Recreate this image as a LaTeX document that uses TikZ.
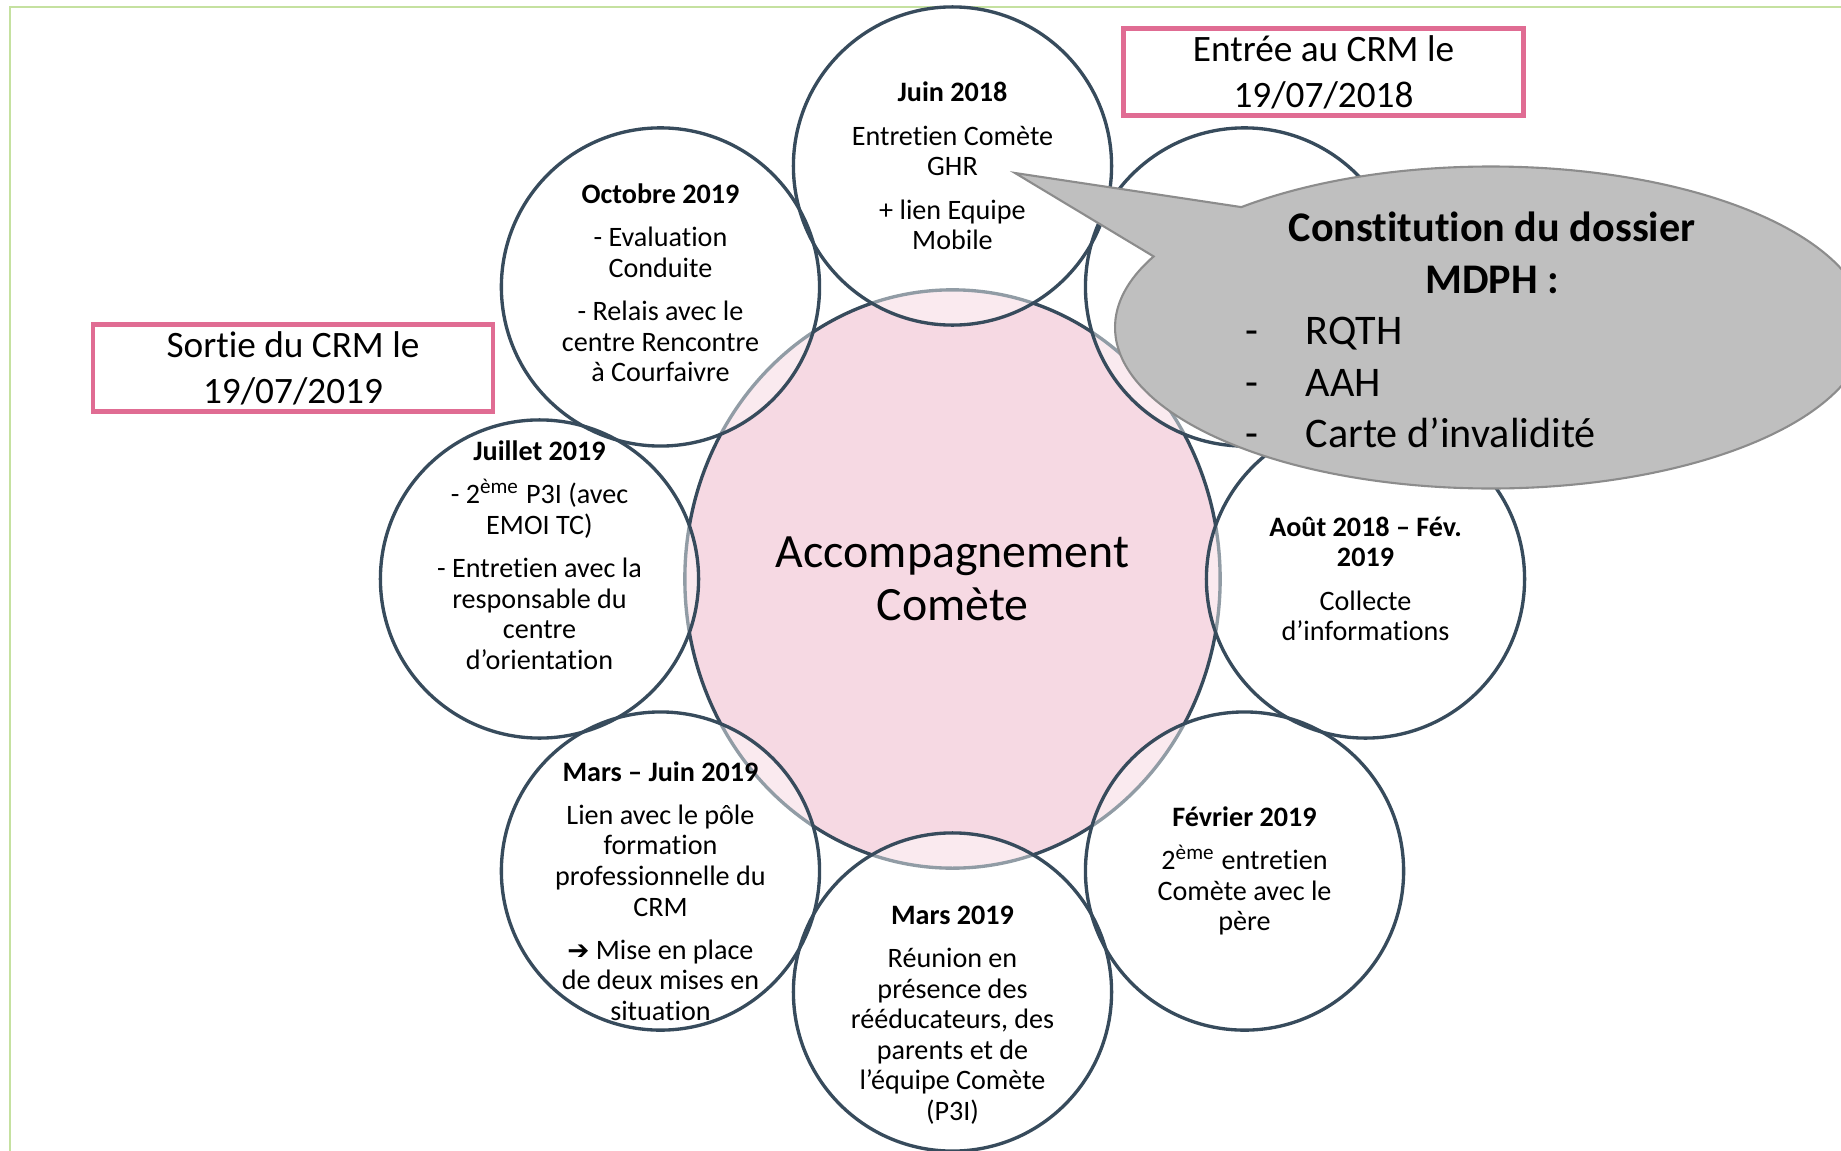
\documentclass[tikz,border=0pt]{standalone}
\usepackage{fontspec}
\setmainfont{Carlito}[RawFeature={-liga;-clig;-calt}]
\newfontfamily\dejavu{DejaVu Sans}
\usetikzlibrary{calc,shapes.geometric}
\definecolor{ink}{HTML}{374B5C}
\definecolor{rose}{HTML}{F6D9E3}
\definecolor{cadre}{HTML}{E06C93}
\definecolor{vert}{HTML}{C5E1A0}
\definecolor{bullefill}{HTML}{BFBFBF}
\definecolor{bulleline}{HTML}{8C8C8C}
\tikzset{
  centre/.style={ellipse, draw=ink, line width=0.95pt, fill=rose, minimum width=5.35cm, minimum height=5.78cm, inner sep=0pt, align=center, font=\fontsize{13.6}{15}\selectfont},
  disque/.style={circle, fill=white, fill opacity=0.45, minimum size=3.18cm, inner sep=0pt},
  anneau/.style={draw=ink, line width=0.95pt},
  txt/.style={align=center, inner sep=0pt, font=\fontsize{8}{8.7}\selectfont},
  datebox/.style={draw=cadre, line width=1.3pt, fill=white, minimum width=4cm, minimum height=0.87cm, inner sep=0pt, align=center, font=\fontsize{10.6}{13}\selectfont},
  bulleform/.style={fill=bullefill, draw=bulleline, line width=0.6pt},
  bulletxt/.style={inner sep=0pt, font=\fontsize{12}{14.6}\selectfont}
}

\begin{document}
\begin{tikzpicture}[x=0.01cm, y=-0.01cm]
\useasboundingbox (0,0) rectangle (1841,1151);
\clip (0,0) rectangle (1841,1151);
\draw[vert, line width=0.6pt] (10,7) rectangle (1900,1200);
\node[centre] (acc) at (952.5,579) {Accompagnement\\Comète};
\foreach \a/\n in {-90/1,-45/2,0/3,45/4,90/5,135/6,180/7,225/8}
  \node[disque] (s\n) at ($(acc.center)+(\a:413)$) {};
\foreach \n in {1,...,8}
  \draw[anneau] (s\n.center) circle[radius=1.59cm];
\node[txt] (t1) at (s1) {\textbf{Juin 2018}\\[3.6pt]Entretien Comète\\GHR\\[3.6pt]+ lien Equipe\\Mobile};
\node[txt] (t3) at (s3) {\textbf{Août 2018 – Fév.}\\\textbf{2019}\\[3.6pt]Collecte\\d’informations};
\node[txt] (t4) at (s4) {\textbf{Février 2019}\\[3.6pt]2\textsuperscript{ème} entretien\\Comète avec le\\père};
\node[txt, yshift=-0.23cm] (t5) at (s5) {\textbf{Mars 2019}\\[3.6pt]Réunion en\\présence des\\rééducateurs, des\\parents et de\\l’équipe Comète\\(P3I)};
\node[txt, yshift=-0.2cm] (t6) at (s6) {\textbf{Mars – Juin 2019}\\[3.6pt]Lien avec le pôle\\formation\\professionnelle du\\CRM\\[3.6pt]{\dejavu\bfseries\fontsize{7.5}{8.7}\selectfont ➔}~Mise en place\\de deux mises en\\situation};
\node[txt, yshift=0.24cm] (t7) at (s7) {\textbf{Juillet 2019}\\[3.6pt]- 2\textsuperscript{ème} P3I (avec\\EMOI TC)\\[3.6pt]- Entretien avec la\\responsable du\\centre\\d’orientation};
\node[txt, yshift=0.04cm] (t8) at (s8) {\textbf{Octobre 2019}\\[3.6pt]- Evaluation\\Conduite\\[3.6pt]- Relais avec le\\centre Rencontre\\à Courfaivre};
\coordinate (pointe) at (1015,173);
\coordinate (mdph) at (1491,327.5);
\draw[bulleform] (pointe) -- ($(mdph)+(228.4:376 and 161)$) arc[start angle=228.4, end angle=566.2, x radius=376, y radius=161] -- cycle;
\node[bulletxt, align=center] (titre) at (1492,253) {\textbf{Constitution du dossier}\\\textbf{MDPH :}};
\node[bulletxt, align=left, anchor=west] (liste) at (1245,382.5) {\makebox[6mm][l]{-}RQTH\\\makebox[6mm][l]{-}AAH\\\makebox[6mm][l]{-}Carte d’invalidité};
\node[datebox] (entree) at (1323.5,72) {Entrée au CRM le\\19/07/2018};
\node[datebox] (sortie) at (293,368) {Sortie du CRM le\\19/07/2019};
\end{tikzpicture}
\end{document}
